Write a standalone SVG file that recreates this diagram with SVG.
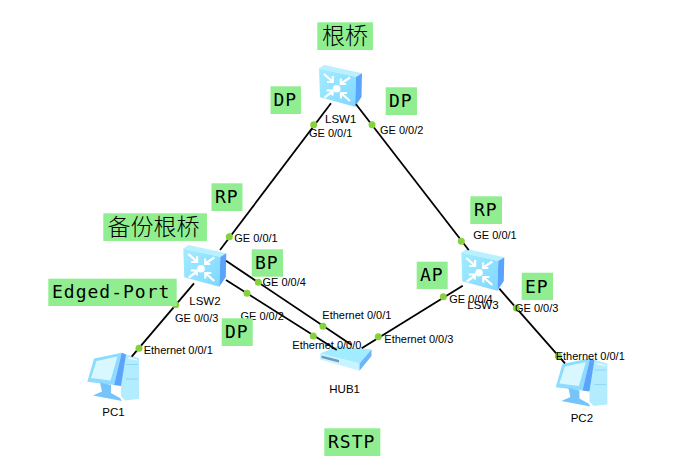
<svg xmlns="http://www.w3.org/2000/svg" width="679" height="467" viewBox="0 0 679 467">
<style>
.t{font-family:"Liberation Sans",Arial,sans-serif;font-size:11px;fill:#000}
.n{font-family:"Liberation Sans",Arial,sans-serif;font-size:11.5px;fill:#000}
.b{fill:#90ee90}
.m{font-family:"DejaVu Sans Mono","Liberation Mono",monospace;font-size:18px;letter-spacing:1px;fill:#000}
.c{font-family:"Noto Sans CJK SC","Noto Sans CJK JP",sans-serif;font-size:23px;font-weight:300;fill:#000}
.l{stroke:#000;stroke-width:1.8;fill:none}
.d{fill:#86d23c}
.w{stroke:#fff;stroke-width:2.2;fill:none}
</style>
<defs>
<linearGradient id="fr" x1="0" y1="0" x2="1" y2="1"><stop offset="0" stop-color="#a4ecff"/><stop offset="1" stop-color="#7fd8ff"/></linearGradient>
<g id="sw">
<path d="M0 3.5L5.3 0L43 8.3L37 12Z" fill="#b8f0ff"/>
<path d="M0 3.5L37 12L36 41.7L1 32.3Z" fill="url(#fr)"/>
<path d="M37 12L43 8.3L42.5 32L36 41.7Z" fill="#5aa4fb"/>
<circle cx="17.7" cy="23.7" r="3.8" fill="#fff"/>
<path class="w" d="M5 9L13.5 16.5M13.8 11V17H8"/>
<path class="w" d="M31 12.5L22 18.5M21.8 13.5V19H27"/>
<path class="w" d="M5.5 32.5L13 27M7.5 25.5H13.5V30.5"/>
<path class="w" d="M31 36L22.5 28.5M28 28H22V33.5"/>
</g>
<g id="pc">
<path d="M51.5 13L69 18V59L55 60.5L51 56Z" fill="#b4ecff"/>
<path d="M24 18.5L51.7 12.7L44 45L17.3 41.7Z" fill="#8ddcff"/>
<path d="M26.5 21L47.5 16.5L40.5 40.5L21 38Z" fill="#d8f7ff"/>
<path d="M51.7 12.7L56 14.5L51 46L44 45Z" fill="#5aa4fb"/>
<path d="M30 42.5L41 45V53L50 58L52 61L23 55.5L32 51.5Z" fill="#75c4fa"/>
<path d="M56 24.5H68M56 39H68" stroke="#8ed8f5" stroke-width="1"/>
<path d="M58 18L67 20" stroke="#fff" stroke-width="1"/>
</g>
<g id="hub">
<path d="M320 353.5L338 346L371.5 349.5L359.5 363.5Z" fill="#a2ecff"/>
<path d="M320 353.5L359.5 363.5V370.7L320 359.5Z" fill="#c8f4ff"/>
<path d="M359.5 363.5L371.5 349.5V356L359.5 370.7Z" fill="#6db4fb"/>
<path d="M321.5 355.5L339 360V362.5L321.5 358Z" fill="#6f98c4"/>
</g>
</defs>
<g id="LSW1"><use href="#sw" x="319" y="65"/><text class="n" x="325" y="122.5">LSW1</text></g>
<g id="LSW2"><use href="#sw" x="183.3" y="245"/><text class="n" x="189.3" y="305">LSW2</text></g>
<g id="LSW3"><use href="#sw" x="461.3" y="249"/><text class="n" x="467.3" y="309">LSW3</text></g>
<g id="HUB1"><use href="#hub"/><text class="n" x="329.3" y="393.3">HUB1</text></g>
<g id="PC1"><use href="#pc" x="70" y="340"/><text class="n" x="102.3" y="415.7">PC1</text></g>
<g id="PC2"><use href="#pc" x="538.4" y="345.6"/><text class="n" x="570.7" y="421.7">PC2</text></g>
<g id="connectors">
<path class="l" d="M331 103.3L220 250"/>
<path class="l" d="M356 104.3L468.7 250"/>
<path class="l" d="M194 283.3L131.7 356.7"/>
<path class="l" d="M226 260.7L351.7 345"/>
<path class="l" d="M226 280L336.7 350"/>
<path class="l" d="M361.7 348.3L462.7 285.7"/>
<path class="l" d="M499.3 288.7L565 363.3"/>
<g class="d">
<circle cx="313.7" cy="124.7" r="3.5"/><circle cx="372" cy="124.7" r="3.5"/>
<circle cx="229.3" cy="236.7" r="3.5"/><circle cx="175.7" cy="304.7" r="3.5"/>
<circle cx="139" cy="348.3" r="3.5"/><circle cx="258.3" cy="282.3" r="3.5"/>
<circle cx="247" cy="293.3" r="3.5"/><circle cx="323" cy="326.3" r="3.5"/>
<circle cx="313.3" cy="336" r="3.5"/><circle cx="378.3" cy="336.7" r="3.5"/>
<circle cx="443.3" cy="296.7" r="3.5"/><circle cx="461.3" cy="241.3" r="3.5"/>
<circle cx="516.3" cy="308" r="3.5"/><circle cx="558.3" cy="356" r="3.5"/>
</g>
<text class="t" x="309" y="136.7">GE 0/0/1</text>
<text class="t" x="380" y="134">GE 0/0/2</text>
<text class="t" x="234.3" y="241.7">GE 0/0/1</text>
<text class="t" x="175" y="321.7">GE 0/0/3</text>
<text class="t" x="240.5" y="320">GE 0/0/2</text>
<text class="t" x="262.5" y="285.7">GE 0/0/4</text>
<text class="t" x="322.3" y="319">Ethernet 0/0/1</text>
<text class="t" x="292.3" y="349">Ethernet 0/0/0</text>
<text class="t" x="384.3" y="342.7">Ethernet 0/0/3</text>
<text class="t" x="143.7" y="354">Ethernet 0/0/1</text>
<text class="t" x="449.3" y="302.7">GE 0/0/4</text>
<text class="t" x="473.3" y="238.7">GE 0/0/1</text>
<text class="t" x="515" y="312.3">GE 0/0/3</text>
<text class="t" x="555.7" y="360">Ethernet 0/0/1</text>
</g>
<g id="label-root"><rect class="b" x="317.3" y="22.3" width="55.7" height="27.7"/><text class="c" x="322" y="43.5">根桥</text></g>
<g id="label-backup"><rect class="b" x="103.3" y="213.3" width="103.7" height="27.7"/><text class="c" x="107.5" y="234.5">备份根桥</text></g>
<g id="label-dp1"><rect class="b" x="270.5" y="86.3" width="30.5" height="27.7"/><text class="m" x="273.5" y="106">DP</text></g>
<g id="label-dp2"><rect class="b" x="385.7" y="87.3" width="31.3" height="27.7"/><text class="m" x="389" y="107">DP</text></g>
<g id="label-rp1"><rect class="b" x="211.5" y="183.3" width="31" height="27.7"/><text class="m" x="215" y="203">RP</text></g>
<g id="label-bp"><rect class="b" x="251.7" y="249.3" width="31.3" height="27.4"/><text class="m" x="255" y="269">BP</text></g>
<g id="label-dp3"><rect class="b" x="221.7" y="318.3" width="31" height="27.7"/><text class="m" x="225" y="338">DP</text></g>
<g id="label-ap"><rect class="b" x="416.7" y="261.7" width="31" height="27.3"/><text class="m" x="420" y="281">AP</text></g>
<g id="label-rp2"><rect class="b" x="470.3" y="196.3" width="31.7" height="27.7"/><text class="m" x="474" y="216">RP</text></g>
<g id="label-ep"><rect class="b" x="521.7" y="272.7" width="31.3" height="27.3"/><text class="m" x="525" y="292.5">EP</text></g>
<g id="label-edge"><rect class="b" x="48.3" y="278.7" width="128.4" height="27.3"/><text class="m" x="52" y="298">Edged-Port</text></g>
<g id="label-rstp"><rect class="b" x="324.3" y="428.3" width="56" height="27.7"/><text class="m" x="328" y="448">RSTP</text></g>
</svg>
